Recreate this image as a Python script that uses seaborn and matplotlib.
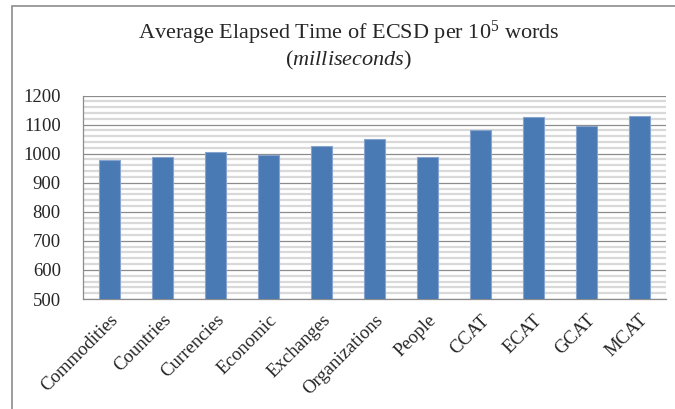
import matplotlib
matplotlib.use("Agg")
import matplotlib.pyplot as plt
from matplotlib.patches import Rectangle
from matplotlib.ticker import MultipleLocator, FixedLocator
import seaborn as sns
import pandas as pd

categories = ["Commodities", "Countries", "Currencies", "Economic", "Exchanges",
              "Organizations", "People", "CCAT", "ECAT", "GCAT", "MCAT"]
elapsed_ms = [978, 987, 1005, 996, 1027, 1049, 990, 1081, 1127, 1096, 1130]
y_ticks = [500, 600, 700, 800, 900, 1000, 1100, 1200]

sns.set_theme(style="white")
plt.rcParams["font.family"] = ["Liberation Serif", "DejaVu Serif"]
plt.rcParams["mathtext.fontset"] = "custom"
plt.rcParams["mathtext.rm"] = "Liberation Serif"
plt.rcParams["mathtext.it"] = "Liberation Serif:italic"

df = pd.DataFrame({"category": categories, "ms": elapsed_ms})

fig = plt.figure(figsize=(6.75, 4.09), dpi=100)
ax = fig.add_axes([83 / 675, 1 - 299 / 409, (666 - 83) / 675, (299 - 95.5) / 409])

sns.barplot(data=df, x="category", y="ms", ax=ax, color="#4a7ab4",
            width=0.39, edgecolor="#86a4cf", linewidth=0.8, saturation=1, zorder=3)

ax.set_xlim(-0.5, len(categories) - 0.5)
ax.set_ylim(y_ticks[0], y_ticks[-1])
ax.set_yticks(y_ticks)
ax.yaxis.set_minor_locator(MultipleLocator(20))
ax.grid(axis="y", which="minor", color="#d9d9d9", linewidth=1.6, zorder=0)
ax.grid(axis="y", which="major", color="#8c8c8c", linewidth=0.9, zorder=1)
ax.grid(axis="x", visible=False)

ax.set_xlabel("")
ax.set_ylabel("")
ax.set_xticks(range(len(categories)))
ax.set_xticklabels(categories, rotation=45, ha="right", va="top",
                   rotation_mode="anchor", fontsize=13.5)
ax.xaxis.set_minor_locator(FixedLocator([i - 0.5 for i in range(len(categories) + 1)]))
ax.tick_params(axis="x", which="major", length=0, pad=9)
ax.tick_params(axis="x", which="minor", length=5, width=0.9, color="#8c8c8c", direction="out")
ax.tick_params(axis="y", which="major", length=7, width=0.9, color="#8c8c8c",
               direction="out", labelsize=13.5, pad=9)
ax.tick_params(axis="y", which="minor", length=0)

for side in ("top", "right"):
    ax.spines[side].set_visible(False)
for side in ("left", "bottom"):
    ax.spines[side].set_color("#8c8c8c")
    ax.spines[side].set_linewidth(0.9)

fig.text(0.517, 1 - 33 / 409, r"Average Elapsed Time of ECSD per 10$^{5}$ words",
         ha="center", va="center", fontsize=16)
fig.text(0.517, 1 - 60 / 409, r"($\mathit{milliseconds}$)",
         ha="center", va="center", fontsize=16)

fig.patches.append(Rectangle((11.5 / 675, -0.2), 1.2, 1.2 - 5.5 / 409,
                             transform=fig.transFigure, fill=False,
                             edgecolor="#8c8c8c", linewidth=1.2, clip_on=False))

fig.savefig("out.png", dpi=100)
